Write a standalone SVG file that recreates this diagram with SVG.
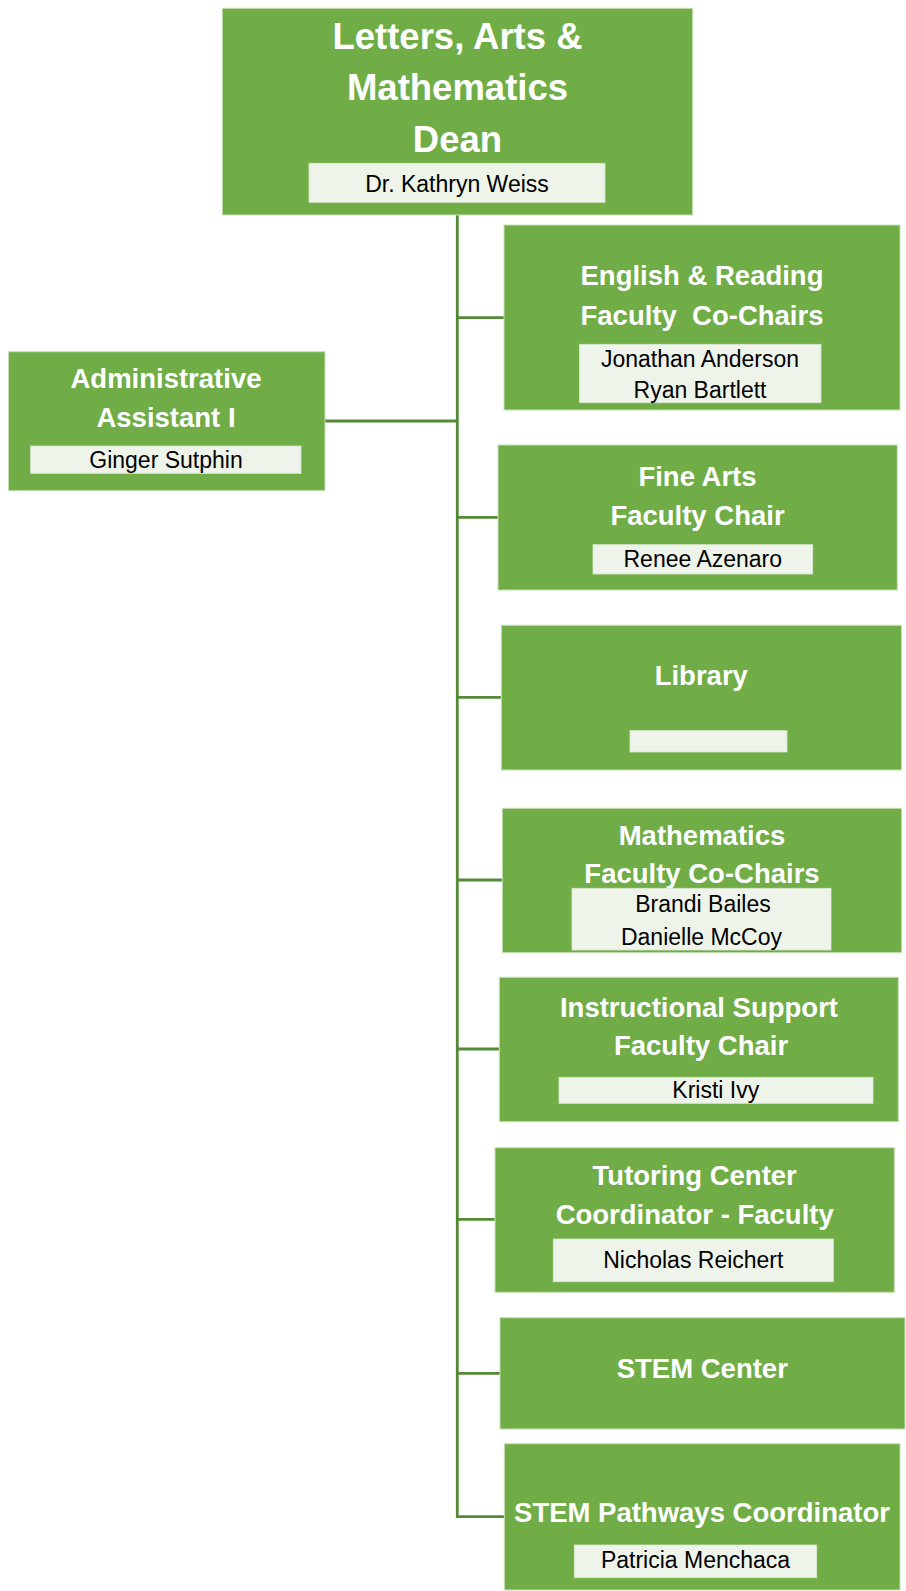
<svg xmlns="http://www.w3.org/2000/svg" width="906" height="1591" viewBox="0 0 906 1591">
<style>
.box{fill:#70AD47;stroke:#C5E0B4;stroke-width:1}
.nm{fill:#EFF4EA;stroke:#DDE8D3;stroke-width:0.8}
.t{font-family:"Liberation Sans",Arial,sans-serif;font-weight:bold;font-size:27.5px;fill:#FFFFFF;text-anchor:middle}
.td{font-family:"Liberation Sans",Arial,sans-serif;font-weight:bold;font-size:36.5px;fill:#FFFFFF;text-anchor:middle}
.n{font-family:"Liberation Sans",Arial,sans-serif;font-size:23px;fill:#000000;text-anchor:middle}
.c{stroke:#548A35;stroke-width:2.8;fill:none}
</style>
<rect width="906" height="1591" fill="#FFFFFF"/>
<g id="connectors">
<line class="c" x1="457.3" y1="215" x2="457.3" y2="1518"/>
<line class="c" x1="456" y1="317.7" x2="504" y2="317.7"/>
<line class="c" x1="325" y1="421" x2="458" y2="421"/>
<line class="c" x1="456" y1="517.3" x2="498" y2="517.3"/>
<line class="c" x1="456" y1="697.3" x2="501" y2="697.3"/>
<line class="c" x1="456" y1="880" x2="502" y2="880"/>
<line class="c" x1="456" y1="1049" x2="499" y2="1049"/>
<line class="c" x1="456" y1="1219.3" x2="495" y2="1219.3"/>
<line class="c" x1="456" y1="1373.3" x2="500" y2="1373.3"/>
<line class="c" x1="456" y1="1516.7" x2="504" y2="1516.7"/>
</g>
<g id="dean">
<rect class="box" x="222.3" y="8.3" width="470.4" height="206.7"/>
<text class="td" x="457.5" y="49">Letters, Arts &amp;</text>
<text class="td" x="457.5" y="100">Mathematics</text>
<text class="td" x="457.5" y="152">Dean</text>
<rect class="nm" x="309" y="163.3" width="296" height="39"/>
<text class="n" x="457" y="192">Dr. Kathryn Weiss</text>
</g>
<g id="english">
<rect class="box" x="504" y="225" width="396" height="185"/>
<text class="t" x="702" y="285">English &amp; Reading</text>
<text class="t" x="702" y="325" xml:space="preserve">Faculty  Co-Chairs</text>
<rect class="nm" x="579.5" y="344.3" width="241.5" height="58.4"/>
<text class="n" x="700" y="366.7">Jonathan Anderson</text>
<text class="n" x="700" y="398">Ryan Bartlett</text>
</g>
<g id="admin">
<rect class="box" x="8.5" y="351.7" width="316.5" height="139"/>
<text class="t" x="166" y="388.3">Administrative</text>
<text class="t" x="166" y="427.3">Assistant I</text>
<rect class="nm" x="30.7" y="446" width="270.3" height="27.3"/>
<text class="n" x="166" y="468.3">Ginger Sutphin</text>
</g>
<g id="finearts">
<rect class="box" x="498" y="445" width="399.3" height="145"/>
<text class="t" x="697.5" y="486">Fine Arts</text>
<text class="t" x="697.5" y="525">Faculty Chair</text>
<rect class="nm" x="593" y="544.7" width="219.7" height="29.3"/>
<text class="n" x="702.8" y="567.3">Renee Azenaro</text>
</g>
<g id="library">
<rect class="box" x="501.3" y="625.3" width="400.2" height="144.7"/>
<text class="t" x="701.3" y="685">Library</text>
<rect class="nm" x="630" y="730.7" width="157" height="21.3"/>
</g>
<g id="mathematics">
<rect class="box" x="502.3" y="808.3" width="399.4" height="144.4"/>
<text class="t" x="702" y="845">Mathematics</text>
<text class="t" x="702" y="883.3">Faculty Co-Chairs</text>
<rect class="nm" x="572" y="888.3" width="259" height="61.7"/>
<text class="n" x="703" y="911.7">Brandi Bailes</text>
<text class="n" x="701.5" y="945">Danielle McCoy</text>
</g>
<g id="instructional">
<rect class="box" x="499.3" y="977.3" width="399" height="144.4"/>
<text class="t" x="699" y="1016.7">Instructional Support</text>
<text class="t" x="701" y="1055">Faculty Chair</text>
<rect class="nm" x="559" y="1077.3" width="314" height="26"/>
<text class="n" x="715.8" y="1098.3">Kristi Ivy</text>
</g>
<g id="tutoring">
<rect class="box" x="495" y="1147.7" width="399.3" height="144.6"/>
<text class="t" x="694.7" y="1185">Tutoring Center</text>
<text class="t" x="694.7" y="1224">Coordinator - Faculty</text>
<rect class="nm" x="553.3" y="1239" width="280" height="42.7"/>
<text class="n" x="693.3" y="1268.3">Nicholas Reichert</text>
</g>
<g id="stemcenter">
<rect class="box" x="500" y="1317.7" width="405" height="111.3"/>
<text class="t" x="702.3" y="1378.3">STEM Center</text>
</g>
<g id="stempathways">
<rect class="box" x="504.3" y="1443.7" width="395.7" height="146.3"/>
<text class="t" x="702" y="1521.7">STEM Pathways Coordinator</text>
<rect class="nm" x="574.3" y="1545" width="242.4" height="32.7"/>
<text class="n" x="695.5" y="1568.3">Patricia Menchaca</text>
</g>
</svg>
